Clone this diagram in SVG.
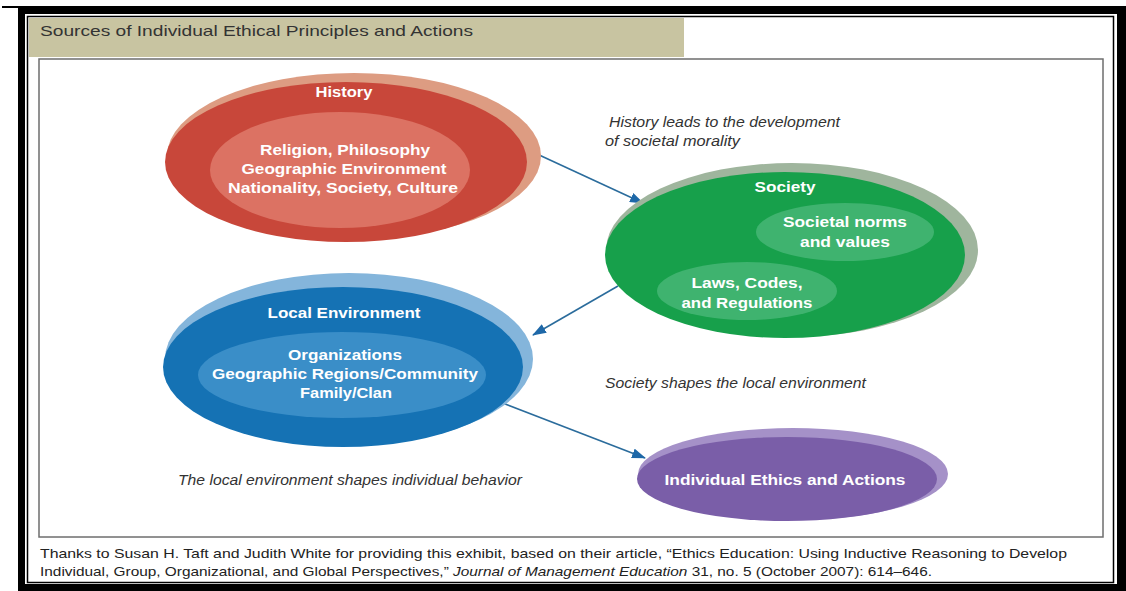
<svg xmlns="http://www.w3.org/2000/svg" width="1126" height="591" viewBox="0 0 1126 591">
  <style>
    .lbl { font-family: "Liberation Sans", Arial, sans-serif; font-weight: bold; fill: #ffffff; font-size: 15px; text-anchor: middle; }
    .note { font-family: "Liberation Sans", Arial, sans-serif; font-style: italic; fill: #333333; font-size: 14px; }
    .foot { font-family: "Liberation Sans", Arial, sans-serif; fill: #222222; font-size: 13px; }
    .conn { stroke: #2b6c9c; stroke-width: 1.6; fill: none; marker-end: url(#head); }
  </style>
  <defs>
    <marker id="head" viewBox="0 0 14 10" refX="13" refY="5" markerWidth="14" markerHeight="10" markerUnits="userSpaceOnUse" orient="auto">
      <path d="M0,0 L14,5 L0,10 Z" fill="#1e68a8"/>
    </marker>
  </defs>

  <rect width="1126" height="591" fill="#ffffff"/>

  <!-- page frame -->
  <rect x="2" y="6" width="1124" height="2" fill="#000"/>
  <path d="M18,7 H1126 V591 H18 Z M25,14 V584 H1117 V14 Z" fill="#000" fill-rule="evenodd"/>
  <rect x="27.5" y="16.5" width="1086" height="566" fill="none" stroke="#000" stroke-width="1.5"/>

  <!-- title band -->
  <rect x="29" y="18" width="655" height="39" fill="#c8c4a1"/>
  <text x="40" y="36" font-family="'Liberation Sans', Arial, sans-serif" font-size="14.5" fill="#333" textLength="433" lengthAdjust="spacingAndGlyphs">Sources of Individual Ethical Principles and Actions</text>

  <!-- exhibit box -->
  <rect x="39" y="59" width="1064" height="478" fill="#ffffff" stroke="#6e6e6e" stroke-width="1.5"/>

  <!-- connectors -->
  <g id="connectors">
    <line class="conn" x1="537" y1="154" x2="643" y2="203"/>
    <line class="conn" x1="618" y1="286" x2="533" y2="335"/>
    <line class="conn" x1="500" y1="402" x2="645" y2="458"/>
  </g>

  <!-- History -->
  <g id="history">
    <ellipse cx="354" cy="156" rx="187" ry="83" fill="#dd9c82"/>
    <ellipse cx="346" cy="162" rx="181" ry="80" fill="#c8473a"/>
    <ellipse cx="340" cy="170" rx="130" ry="58" fill="#dc7263"/>
    <text class="lbl" x="344" y="97" textLength="57" lengthAdjust="spacingAndGlyphs">History</text>
    <text class="lbl" x="345" y="155" textLength="170" lengthAdjust="spacingAndGlyphs">Religion, Philosophy</text>
    <text class="lbl" x="344" y="174" textLength="205" lengthAdjust="spacingAndGlyphs">Geographic Environment</text>
    <text class="lbl" x="343" y="193" textLength="230" lengthAdjust="spacingAndGlyphs">Nationality, Society, Culture</text>
  </g>

  <!-- Society -->
  <g id="society">
    <ellipse cx="792" cy="250" rx="186" ry="87" fill="#9fb59d"/>
    <ellipse cx="785" cy="255" rx="180" ry="83" fill="#17a04b"/>
    <ellipse cx="845" cy="232" rx="89" ry="29" fill="#3fb36f"/>
    <ellipse cx="747" cy="291" rx="90" ry="29" fill="#3fb36f"/>
    <text class="lbl" x="785" y="192" textLength="61" lengthAdjust="spacingAndGlyphs">Society</text>
    <text class="lbl" x="845" y="227" textLength="124" lengthAdjust="spacingAndGlyphs">Societal norms</text>
    <text class="lbl" x="845" y="247" textLength="90" lengthAdjust="spacingAndGlyphs">and values</text>
    <text class="lbl" x="747" y="288" textLength="111" lengthAdjust="spacingAndGlyphs">Laws, Codes,</text>
    <text class="lbl" x="747" y="308" textLength="131" lengthAdjust="spacingAndGlyphs">and Regulations</text>
  </g>

  <!-- Local Environment -->
  <g id="local-environment">
    <ellipse cx="349" cy="359" rx="184" ry="86" fill="#84b5db"/>
    <ellipse cx="343" cy="367" rx="180" ry="80" fill="#1572b4"/>
    <ellipse cx="342" cy="375" rx="144" ry="43" fill="#3a8ec8"/>
    <text class="lbl" x="344" y="318" textLength="153" lengthAdjust="spacingAndGlyphs">Local Environment</text>
    <text class="lbl" x="345" y="360" textLength="114" lengthAdjust="spacingAndGlyphs">Organizations</text>
    <text class="lbl" x="345" y="379" textLength="266" lengthAdjust="spacingAndGlyphs">Geographic Regions/Community</text>
    <text class="lbl" x="346" y="398" textLength="92" lengthAdjust="spacingAndGlyphs">Family/Clan</text>
  </g>

  <!-- Individual Ethics and Actions -->
  <g id="individual">
    <ellipse cx="793" cy="474" rx="155" ry="46" fill="#a591c8"/>
    <ellipse cx="787" cy="479" rx="150" ry="42" fill="#7a5ea8"/>
    <text class="lbl" x="785" y="485" textLength="241" lengthAdjust="spacingAndGlyphs">Individual Ethics and Actions</text>
  </g>

  <!-- annotations -->
  <g id="notes">
    <text class="note" x="609" y="127" textLength="231" lengthAdjust="spacingAndGlyphs">History leads to the development</text>
    <text class="note" x="605" y="146" textLength="135" lengthAdjust="spacingAndGlyphs">of societal morality</text>
    <text class="note" x="605" y="388" textLength="261" lengthAdjust="spacingAndGlyphs">Society shapes the local environment</text>
    <text class="note" x="178" y="485" textLength="344" lengthAdjust="spacingAndGlyphs">The local environment shapes individual behavior</text>
  </g>

  <!-- source note -->
  <text class="foot" x="40" y="558" textLength="1027" lengthAdjust="spacingAndGlyphs">Thanks to Susan H. Taft and Judith White for providing this exhibit, based on their article, “Ethics Education: Using Inductive Reasoning to Develop</text>
  <text class="foot" x="40" y="576" textLength="892" lengthAdjust="spacingAndGlyphs">Individual, Group, Organizational, and Global Perspectives,” <tspan font-style="italic">Journal of Management Education</tspan> 31, no. 5 (October 2007): 614–646.</text>
</svg>
